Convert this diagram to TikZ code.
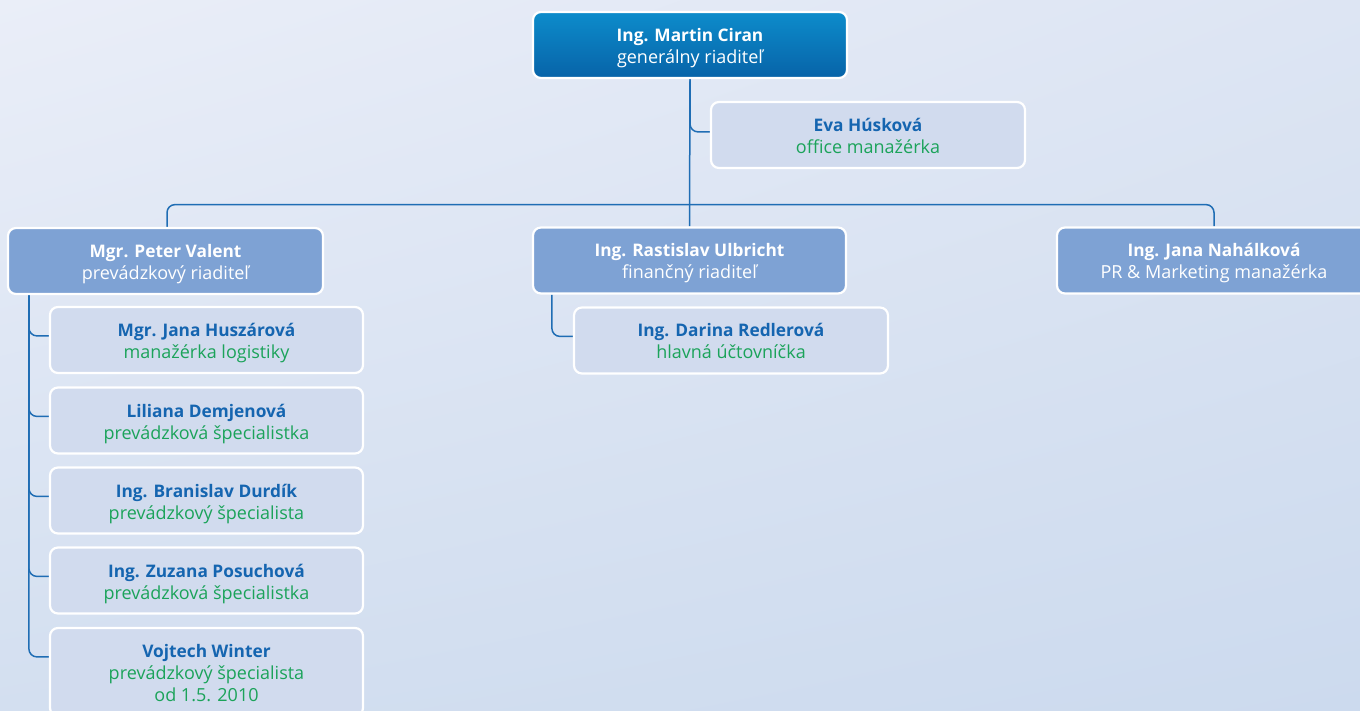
\documentclass[tikz,border=0pt]{standalone}
\usepackage{fontspec}
\setmainfont{Open Sans}
\usetikzlibrary{calc,shadings}
\definecolor{bgTL}{HTML}{EAEEF8}
\definecolor{bgTR}{HTML}{DDE5F3}
\definecolor{bgBL}{HTML}{D3DFF0}
\definecolor{bgBR}{HTML}{CCDAEE}
\definecolor{topA}{HTML}{0D8CCB}
\definecolor{topB}{HTML}{0763A8}
\definecolor{midC}{HTML}{7EA2D4}
\definecolor{subC}{HTML}{D1DBEE}
\definecolor{nameC}{HTML}{1565B0}
\definecolor{roleC}{HTML}{1BA35A}
\definecolor{lineC}{HTML}{1F6DB4}
\pgfdeclarelayer{bg}
\pgfdeclarelayer{lines}
\pgfsetlayers{bg,lines,main}
\newcommand{\nmw}[1]{{\fontsize{17.3}{22}\selectfont\rule{0pt}{20pt}\bfseries #1}}
\newcommand{\rlw}[1]{{\fontsize{18}{22}\selectfont #1\rule[-5pt]{0pt}{5pt}}}
\newcommand{\nm}[1]{\textcolor{nameC}{\nmw{#1}}}
\newcommand{\rl}[1]{\textcolor{roleC}{\rlw{#1}}}
\tikzset{
  box/.style={draw=white, line width=2.2pt, rounded corners=8pt, minimum height=66pt,
    align=center, inner sep=0pt, font=\fontsize{17.5}{22}\selectfont},
  topbox/.style={box, top color=topA, bottom color=topB, text=white, minimum width=314pt},
  midbox/.style={box, fill=midC, text=white, minimum width=315pt},
  subbox/.style={box, fill=subC, minimum width=313pt},
  conn/.style={draw=lineC, line width=1.5pt, rounded corners=8pt}
}
\begin{document}
\begin{tikzpicture}[x=1pt,y=-1pt]
\useasboundingbox (0,0) rectangle (1360,711);
\begin{pgfonlayer}{bg}
\shade[upper left=bgTL, upper right=bgTR, lower left=bgBL, lower right=bgBR] (0,0) rectangle (1360,711);
\end{pgfonlayer}

\node[topbox] (ciran) at (690,45) {\nmw{Ing. Martin Ciran}\\\rlw{generálny riaditeľ}};
\node[subbox, minimum width=314pt] (eva) at (868,135) {\nm{Eva Húsková}\\\rl{office manažérka}};

\node[midbox] (valent) at (165.5,261) {\nmw{Mgr. Peter Valent}\\\rlw{prevádzkový riaditeľ}};
\node[midbox, minimum width=313pt] (ulbricht) at (689.5,260.5) {\nmw{Ing. Rastislav Ulbricht}\\\rlw{finančný riaditeľ}};
\node[midbox, minimum width=314pt] (nahalkova) at (1214,260.5) {\nmw{Ing. Jana Nahálková}\\\rlw{PR \& Marketing manažérka}};

\node[subbox, minimum width=314pt] (redlerova) at (731,340.5) {\nm{Ing. Darina Redlerová}\\\rl{hlavná účtovníčka}};

\node[subbox] (huszarova) at (206.5,340) {\nm{Mgr. Jana Huszárová}\\\rl{manažérka logistiky}};
\node[subbox] (demjenova) at (206.5,420.5) {\nm{Liliana Demjenová}\\\rl{prevádzková špecialistka}};
\node[subbox] (durdik) at (206.5,500.5) {\nm{Ing. Branislav Durdík}\\\rl{prevádzkový špecialista}};
\node[subbox] (posuchova) at (206.5,580.5) {\nm{Ing. Zuzana Posuchová}\\\rl{prevádzková špecialistka}};
\node[subbox, minimum height=88pt] (winter) at (206.5,672) {\nm{Vojtech Winter}\\\rl{prevádzkový špecialista}\\\rl{od 1.5. 2010}};

\coordinate (hub) at ($(ciran.south)+(0,125.5)$);
\coordinate (vt) at ($(valent.south west)+(22,0)$);
\coordinate (ut) at ($(ulbricht.south west)+(20,0)$);

\begin{pgfonlayer}{lines}
\draw[conn] (ciran.south) -- (ulbricht.north);
\draw[conn] (ciran.south) |- ($(eva.north west)+(0,31)$);
\draw[conn] ($(valent.north)+(1.5,0)$) |- (hub) -| (nahalkova.north);
\foreach \s in {huszarova,demjenova,durdik,posuchova,winter}
  \draw[conn] (vt) |- ($(\s.north west)+(0,30)$);
\draw[conn] (ut) |- ($(redlerova.north west)+(0,30)$);
\end{pgfonlayer}
\end{tikzpicture}
\end{document}
